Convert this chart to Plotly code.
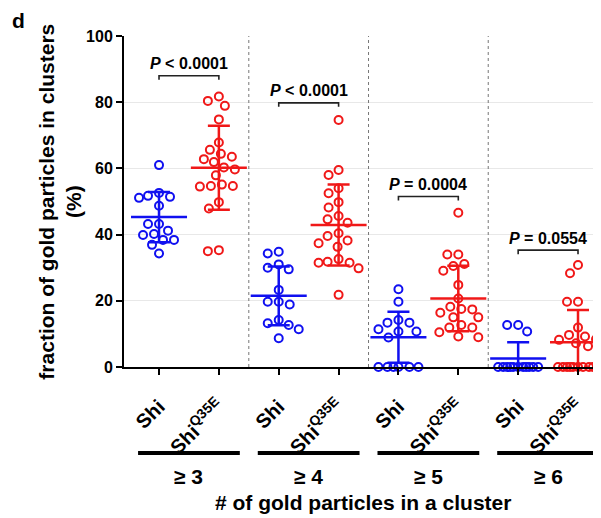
import math
import numpy as np
import plotly.graph_objects as go

# ---------------- data ----------------
groups = ["≥ 3", "≥ 4", "≥ 5", "≥ 6"]
genotypes = ["Shi", "Shi<sup>Q35E</sup>"]

shi_ge3 = [61.0, 52.6, 51.7, 51.4, 51.1, 48.7, 43.2, 43.2, 41.2, 40.2, 39.9, 38.4, 38.4, 36.9, 34.3]
q35e_ge3 = [81.7, 80.4, 78.9, 74.8, 67.8, 65.6, 64.4, 63.5, 62.8, 61.9, 60.3, 59.7, 57.9, 55.1,
            54.7, 54.7, 54.5, 49.8, 47.9, 35.3, 35.0]
shi_ge4 = [34.8, 34.3, 31.0, 30.0, 29.5, 23.3, 19.7, 19.7, 18.9, 14.2, 13.2, 12.7, 11.4, 8.7]
q35e_ge4 = [74.6, 59.5, 58.0, 54.0, 52.5, 49.8, 48.2, 45.6, 44.6, 43.6, 40.4, 39.6, 38.2, 37.4,
            36.3, 32.6, 31.8, 31.5, 31.5, 29.8, 21.8]
shi_ge5 = [23.5, 19.7, 14.2, 13.4, 13.4, 11.4, 10.7, 10.7, 8.9, 0, 0, 0, 0, 0, 0]
q35e_ge5 = [46.6, 34.0, 34.0, 31.1, 30.5, 29.1, 24.8, 20.7, 18.2, 17.5, 17.4, 16.4, 15.0, 15.0,
            12.7, 11.9, 11.9, 10.5, 9.2, 9.0]
shi_ge6 = [12.7, 12.7, 10.7, 0, 0, 0, 0, 0, 0, 0, 0, 0, 0, 0]
q35e_ge6 = [30.8, 28.3, 19.7, 19.7, 11.9, 9.7, 9.2, 8.4, 8.2, 7.2, 6.3,
            0, 0, 0, 0, 0, 0, 0, 0, 0, 0]

shi_mean = [45.3, 21.5, 9.0, 2.6]
shi_sd = [7.6, 8.9, 7.7, 4.9]
q35e_mean = [60.2, 42.9, 20.7, 7.5]
q35e_sd = [12.7, 12.2, 9.9, 9.7]

p_values = ["<i>P</i> &lt; 0.0001", "<i>P</i> &lt; 0.0001", "<i>P</i> = 0.0004", "<i>P</i> = 0.0554"]
bracket_y = [88.0, 79.8, 51.5, 35.3]

y_ticks = [0, 20, 40, 60, 80, 100]

shi_sets = [shi_ge3, shi_ge4, shi_ge5, shi_ge6]
q35e_sets = [q35e_ge3, q35e_ge4, q35e_ge5, q35e_ge6]

BLUE = "#1010f0"
RED = "#f01818"
FONT = "Arial, Liberation Sans, sans-serif"

# pixel scales used to build a beeswarm layout
PX_X = 59.9
PX_Y = 3.31


def swarm(vals, dist=11.0, maxw=20):
    placed = []
    offs = []
    cands = sorted(range(-maxw, maxw + 1), key=lambda c: (abs(c), c))
    for v in vals:
        y = v * PX_Y
        best, bestscore = 0, -1.0
        for c in cands:
            md = min((math.hypot(c - px, y - py) for px, py in placed), default=1e9)
            if md >= dist:
                best = c
                break
            if md > bestscore:
                bestscore, best = md, c
        placed.append((best, y))
        offs.append(best / PX_X)
    return offs


fig = go.Figure()

tickvals, ticktext = [], []
for gi in range(len(groups)):
    for k, (vals, col, m, s) in enumerate([
        (shi_sets[gi], BLUE, shi_mean[gi], shi_sd[gi]),
        (q35e_sets[gi], RED, q35e_mean[gi], q35e_sd[gi]),
    ]):
        xc = gi * 2 + k
        tickvals.append(xc)
        ticktext.append(genotypes[k])
        offs = swarm(vals)
        fig.add_trace(go.Scatter(
            x=[xc + o for o in offs], y=vals, mode="markers",
            marker=dict(symbol="circle-open", size=8, color=col, line=dict(width=2, color=col)),
            cliponaxis=False, showlegend=False, hoverinfo="y"))
        # mean line
        fig.add_trace(go.Scatter(
            x=[xc], y=[m], mode="markers",
            marker=dict(symbol="line-ew", size=40, color=col, line=dict(width=2.5, color=col)),
            cliponaxis=False, showlegend=False, hoverinfo="y"))
        # SD error bars
        fig.add_trace(go.Scatter(
            x=[xc], y=[m], mode="markers",
            marker=dict(size=1, color="rgba(0,0,0,0)"),
            error_y=dict(type="data", array=[s], visible=True, color=col, thickness=2.5, width=11),
            cliponaxis=True, showlegend=False, hoverinfo="skip"))

shapes = []
annotations = []
for gi, g in enumerate(groups):
    x0, x1 = gi * 2, gi * 2 + 1
    mid = (x0 + x1) / 2
    by = bracket_y[gi]
    shapes.append(dict(type="path", xref="x", yref="y",
                       path=f"M {x0},{by-1.2} L {x0},{by} L {x1},{by} L {x1},{by-1.2}",
                       line=dict(color="#222", width=1.6)))
    annotations.append(dict(x=mid, y=by + 3.6, xref="x", yref="y", text=f"<b>{p_values[gi]}</b>",
                            showarrow=False, yanchor="middle",
                            font=dict(size=16, color="black", family=FONT)))
    shapes.append(dict(type="line", xref="x", yref="paper", x0=mid - 0.85, x1=mid + 0.85,
                       y0=-0.26, y1=-0.26, line=dict(color="black", width=4)))
    annotations.append(dict(x=mid, y=-0.332, xref="x", yref="paper", text=f"<b>{g}</b>",
                            showarrow=False, yanchor="middle",
                            font=dict(size=21, color="black", family=FONT)))
    if gi > 0:
        shapes.append(dict(type="line", xref="x", yref="y", x0=gi * 2 - 0.5, x1=gi * 2 - 0.5,
                           y0=0, y1=100, line=dict(color="#777", width=1, dash="dot")))

annotations.append(dict(x=0.5, y=-0.408, xref="paper", yref="paper",
                        text="<b># of gold particles in a cluster</b>", showarrow=False,
                        yanchor="middle", font=dict(size=21, color="black", family=FONT)))
annotations.append(dict(x=-0.136, y=0.5, xref="paper", yref="paper", textangle=-90,
                        text="<b>fraction of gold particles in clusters<br>(%)</b>", showarrow=False,
                        xanchor="center", yanchor="middle",
                        font=dict(size=21, color="black", family=FONT)))
annotations.append(dict(x=-0.222, y=1.0846, xref="paper", yref="paper", text="<b>d</b>",
                        showarrow=False, xanchor="center", yanchor="top", borderpad=0,
                        font=dict(size=21, color="black", family=FONT)))

# the page body adds an 8px margin, so the figure is sized/offset to compensate
fig.update_layout(
    width=593, height=510,
    margin=dict(l=116, r=0, t=28, b=151),
    paper_bgcolor="white", plot_bgcolor="white",
    font=dict(family=FONT, color="black"),
    shapes=shapes, annotations=annotations,
    xaxis=dict(range=[-0.585, 7.384], tickvals=tickvals, ticktext=ticktext, tickangle=-45,
               showline=True, linewidth=2, linecolor="black", ticks="outside", ticklen=6,
               tickwidth=2, tickcolor="black", showgrid=False, zeroline=False,
               ticklabelstandoff=12,
               tickfont=dict(size=20, weight="bold", color="black", family=FONT)),
    yaxis=dict(range=[0, 100], tickvals=y_ticks, showline=True, linewidth=2, linecolor="black",
               ticks="outside", ticklen=6, tickwidth=2, tickcolor="black",
               showgrid=True, gridcolor="#e8e8e8", gridwidth=1, zeroline=False,
               tickfont=dict(size=16, weight="bold", color="black", family=FONT)),
)

fig.write_html("out.html")
